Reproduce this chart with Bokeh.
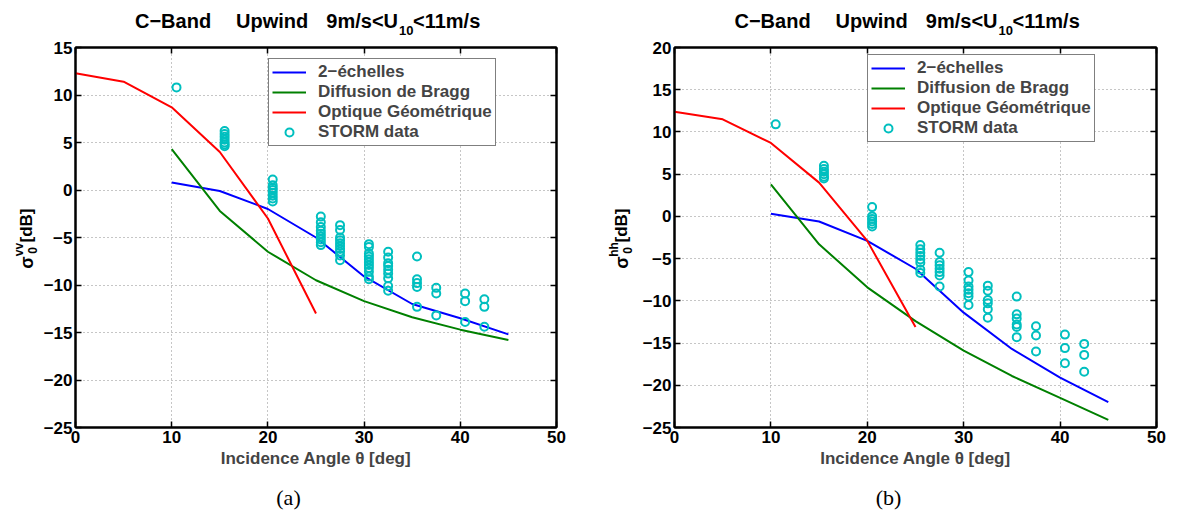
import math
from bokeh.plotting import figure
from bokeh.models import (Range1d, LinearAxis, FixedTicker, CustomJSTickFormatter,
                          Label, Legend, LegendItem)
from bokeh.layouts import row, column
from bokeh.embed import file_html
from bokeh.resources import INLINE

# ---------------- data ----------------
x_ticks = [0, 10, 20, 30, 40, 50]
vv_ticks = [-25, -20, -15, -10, -5, 0, 5, 10, 15]
hh_ticks = [-25, -20, -15, -10, -5, 0, 5, 10, 15, 20]

theta_model = [10, 15, 20, 25, 30, 35, 40, 45]
theta_go = [0, 5, 10, 15, 20, 25]

vv_two_scale = [0.8, -0.1, -2.0, -5.0, -9.1, -12.0, -13.5, -15.2]
vv_bragg = [4.3, -2.2, -6.5, -9.5, -11.7, -13.4, -14.7, -15.8]
vv_go = [12.3, 11.4, 8.7, 4.0, -3.0, -13.0]

hh_two_scale = [0.3, -0.6, -2.9, -6.2, -11.4, -15.7, -19.1, -22.0]
hh_bragg = [3.8, -3.3, -8.4, -12.4, -15.9, -18.9, -21.5, -24.1]
hh_go = [12.4, 11.5, 8.7, 4.0, -2.9, -13.1]

storm_angles = [10.5, 15.5, 20.5, 25.5, 27.5, 30.5, 32.5, 35.5, 37.5, 40.5, 42.5]
storm_vv = [
    [10.8],
    [6.2, 5.9, 5.6, 5.3, 5.0, 4.8, 4.6],
    [1.1, 0.5, 0.2, 0.0, -0.3, -0.6, -0.9, -1.2],
    [-2.8, -3.4, -3.9, -4.3, -4.6, -4.9, -5.2, -5.5, -5.8],
    [-3.7, -4.2, -5.0, -5.3, -5.6, -5.9, -6.2, -6.5, -6.9, -7.4],
    [-5.7, -6.0, -6.7, -7.0, -7.3, -7.6, -7.9, -8.2, -8.6, -9.1, -9.4],
    [-6.5, -7.1, -7.7, -8.0, -8.4, -8.8, -9.3, -10.1, -10.6],
    [-7.0, -9.4, -9.8, -10.2, -12.3],
    [-10.3, -10.9, -13.2],
    [-10.9, -11.7, -13.9],
    [-11.5, -12.3, -14.4],
]
storm_hh = [
    [10.9],
    [6.0, 5.6, 5.3, 5.0, 4.7, 4.5],
    [1.1, 0.0, -0.3, -0.6, -0.9, -1.2],
    [-3.4, -3.9, -4.3, -4.7, -5.1, -5.5, -6.3, -6.7],
    [-4.3, -5.4, -5.8, -6.2, -6.6, -7.0, -8.3],
    [-6.6, -7.6, -8.3, -8.7, -9.1, -9.5, -10.5],
    [-8.2, -8.8, -9.9, -10.3, -11.0, -12.0],
    [-9.5, -11.6, -12.1, -12.8, -13.1, -14.3],
    [-13.0, -14.1, -16.0],
    [-14.0, -15.6, -17.4],
    [-15.1, -16.4, -18.4],
]

legend_labels = ["2\u2212échelles", "Diffusion de Bragg", "Optique Géométrique", "STORM data"]
title_parts = ["C\u2212Band", "Upwind", "9m/s<U", "10", "<11m/s"]
x_label = "Incidence Angle θ [deg]"
captions = ["(a)", "(b)"]
pols = ["vv", "hh"]

FONT = "Liberation Sans"
BLUE, GREEN, RED, CYAN = "#0000ff", "#008000", "#ff0000", "#00bfbf"
FMT_CODE = "return tick < 0 ? '\\u2212' + Math.abs(tick) : String(tick);"

# page geometry (canvas starts at 0,0)
TITLE_H = 38
TOP_B, FRAME_H, BOT_B = 9, 380, 50
MAIN_H = TOP_B + FRAME_H + BOT_B
CAP_H = 516 - TITLE_H - MAIN_H
FRAME_BOTTOM = TITLE_H + TOP_B + FRAME_H   # page y of the frames' bottom (427)
YLAB_W = 40


def add_label(p, text, x, y, size, align="left", angle=0, baseline="middle",
              font=FONT, style="bold"):
    p.add_layout(Label(x=x, y=y, x_units="screen", y_units="screen", text=text,
                       text_font=font, text_font_style=style, text_font_size=size,
                       text_align=align, text_baseline=baseline, angle=angle,
                       text_color="black"))


def text_fig(w, h):
    p = figure(width=w, height=h, min_border=0, title=None,
               x_range=Range1d(0, w), y_range=Range1d(0, h),
               x_axis_location=None, y_axis_location=None,
               output_backend="svg", toolbar_location=None, tools="")
    p.outline_line_color = None
    p.background_fill_color = "white"
    p.border_fill_color = "white"
    p.grid.visible = False
    return p


def style_axis(ax, ticker, show):
    ax.ticker = ticker
    ax.formatter = CustomJSTickFormatter(code=FMT_CODE if show else "return '';")
    ax.axis_line_width = 2
    ax.axis_line_color = "black"
    ax.major_tick_in = 6
    ax.major_tick_out = 0
    ax.major_tick_line_width = 1.5
    ax.major_tick_line_color = "black"
    ax.minor_tick_line_color = None
    ax.major_label_text_font = FONT
    ax.major_label_text_font_style = "bold"
    ax.major_label_text_color = "black"
    ax.major_label_text_font_size = "17px"
    ax.major_label_standoff = 3 if show else 0


def panel(width, bl, br, yr, yticks, two, bragg, go, storm, leg_y):
    p = figure(width=width, height=MAIN_H, min_border_left=bl, min_border_right=br,
               min_border_top=TOP_B, min_border_bottom=BOT_B, title=None,
               x_range=Range1d(0, 50), y_range=Range1d(*yr),
               output_backend="svg", toolbar_location=None, tools="")
    p.background_fill_color = "white"
    p.border_fill_color = "white"
    p.outline_line_color = "black"
    p.outline_line_width = 2

    xt = FixedTicker(ticks=x_ticks)
    yt = FixedTicker(ticks=yticks)
    bottom = p.below[0]
    left = p.left[0]
    style_axis(bottom, xt, True)
    style_axis(left, yt, True)
    top = LinearAxis()
    right = LinearAxis()
    style_axis(top, xt, False)
    style_axis(right, yt, False)
    p.add_layout(top, "above")
    p.add_layout(right, "right")

    bottom.axis_label = x_label
    bottom.axis_label_text_font = FONT
    bottom.axis_label_text_font_style = "bold"
    bottom.axis_label_text_font_size = "17px"
    bottom.axis_label_standoff = 3

    p.xgrid.ticker = xt
    p.ygrid.ticker = yt
    p.grid.grid_line_color = "#8c8c8c"
    p.grid.grid_line_dash = "1 3"
    p.grid.grid_line_width = 1

    r1 = p.line(theta_model, two, line_color=BLUE, line_width=2)
    r2 = p.line(theta_model, bragg, line_color=GREEN, line_width=2)
    r3 = p.line(theta_go, go, line_color=RED, line_width=2)
    sx, sy = [], []
    for a, grp in zip(storm_angles, storm):
        for v in grp:
            sx.append(a)
            sy.append(v)
    r4 = p.scatter(sx, sy, marker="circle", size=8, line_color=CYAN,
                   fill_color=None, line_width=2)

    leg = Legend(items=[LegendItem(label=legend_labels[0], renderers=[r1]),
                        LegendItem(label=legend_labels[1], renderers=[r2]),
                        LegendItem(label=legend_labels[2], renderers=[r3]),
                        LegendItem(label=legend_labels[3], renderers=[r4])],
                 location=(193, leg_y))
    leg.label_text_font = FONT
    leg.label_text_font_style = "bold"
    leg.label_text_font_size = "17px"
    leg.label_height = 20
    leg.glyph_height = 20
    leg.glyph_width = 34
    leg.label_standoff = 12
    leg.padding = 3
    leg.spacing = 0
    leg.margin = 0
    leg.border_line_color = "black"
    leg.border_line_width = 1.5
    leg.background_fill_alpha = 1
    p.add_layout(leg)
    return p


# main panels
pA = panel(597 - YLAB_W, 75 - YLAB_W, 41, (-25, 15), vv_ticks, vv_two_scale, vv_bragg,
           vv_go, storm_vv, 281)
pB = panel(573 - YLAB_W, 674 - 597 - YLAB_W, 14, (-25, 20), hh_ticks, hh_two_scale,
           hh_bragg, hh_go, storm_hh, 285)

# title strip (positions: page y converted to screen units from strip bottom)
frame_centers = [315.5, 915.0]
tfig = text_fig(1170, TITLE_H)
MAIN_Y = TITLE_H - 20.5
SUB_Y = TITLE_H - 30
for cx in frame_centers:
    add_label(tfig, title_parts[0], cx - 181, MAIN_Y, "20px")
    add_label(tfig, title_parts[1], cx - 80, MAIN_Y, "20px")
    add_label(tfig, title_parts[2], cx + 82, MAIN_Y, "20px", align="right")
    add_label(tfig, title_parts[3], cx + 83, SUB_Y, "13px")
    add_label(tfig, title_parts[4], cx + 97, MAIN_Y, "20px")

# y-label strips: sigma_0^pol [dB]; the strips' frames line up with the plot frames,
# so screen y is measured from the frames' bottom (page y 427)
A = math.pi / 2


def ylab_fig(pol, xs, x0):
    f = text_fig(YLAB_W, MAIN_H)
    add_label(f, "σ", xs - x0, FRAME_BOTTOM - 262, "18px", align="center", angle=A)
    add_label(f, "0", xs + 6 - x0, FRAME_BOTTOM - 250, "12px", align="center", angle=A)
    add_label(f, pol, xs - 8 - x0, FRAME_BOTTOM - 249, "12px", align="center", angle=A)
    add_label(f, "[dB]", xs - x0, FRAME_BOTTOM - 225, "17px", align="center", angle=A)
    return f


yA = ylab_fig(pols[0], 26, 0)
yB = ylab_fig(pols[1], 621, 597)

# caption strip
cfig = text_fig(1170, CAP_H)
add_label(cfig, captions[0], 288, 516 - 497, "22px", align="center",
          font="Liberation Serif", style="normal")
add_label(cfig, captions[1], 888, 516 - 497, "22px", align="center",
          font="Liberation Serif", style="normal")

layout = column(tfig, row(yA, pA, yB, pB), cfig)
open("out.html", "w").write(file_html(layout, INLINE))
